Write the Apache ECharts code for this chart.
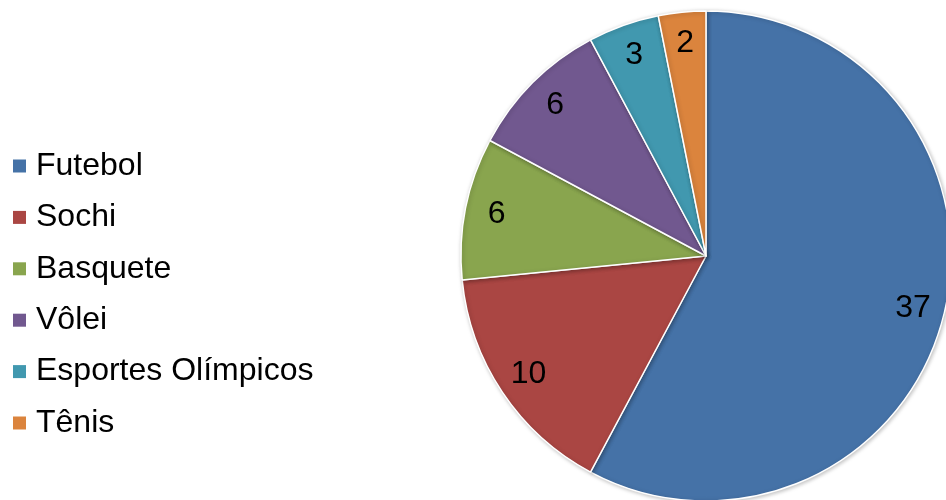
<!DOCTYPE html>
<html>
  <head>
    <title></title>
    <meta charset="UTF-8" />
    <script src="https://cdn.jsdelivr.net/npm/echarts@6/dist/echarts.min.js"></script>
    <style>
      html, body { margin: 0; padding: 0; background: #fff; }
    </style>
  </head>
  <body>
    <div id="main"></div>
    <script>
      const categories = ['Futebol', 'Sochi', 'Basquete', 'Vôlei', 'Esportes Olímpicos', 'Tênis'];
      const values = [37, 10, 6, 6, 3, 2];
      const colors = ['#4572A7', '#AA4643', '#89A54E', '#71588F', '#4198AF', '#DB843D'];

      const width = 946;
      const height = 500;
      const main = document.getElementById('main');
      main.style.width = `${width}px`;
      main.style.height = `${height}px`;

      const font = '"Liberation Sans", Arial, sans-serif';
      const data = categories.map((name, i) => ({ name, value: values[i] }));

      const myChart = echarts.init(main);
      const option = {
        animation: false,
        color: colors,
        legend: {
          orient: 'vertical',
          left: 8,
          top: 145,
          icon: 'rect',
          itemWidth: 13,
          itemHeight: 13,
          itemGap: 19.4,
          itemStyle: { borderWidth: 0, shadowBlur: 0, shadowOffsetX: 0, shadowOffsetY: 0 },
          data: categories,
          textStyle: {
            fontFamily: font,
            fontSize: 32,
            lineHeight: 31,
            color: '#000',
            padding: [0, 0, 0, 5],
          },
        },
        series: [
          {
            type: 'pie',
            center: [706, 256],
            radius: 245,
            startAngle: 90,
            clockwise: true,
            silent: true,
            label: { show: false },
            labelLine: { show: false },
            itemStyle: {
              borderColor: '#fff',
              borderWidth: 1.5,
              shadowBlur: 4,
              shadowColor: 'rgba(0,0,0,0.25)',
              shadowOffsetX: 1,
              shadowOffsetY: 1,
            },
            data: data,
          },
          {
            // transparent ring, only used to place the value labels
            type: 'pie',
            center: [706, 256],
            radius: [176, 245],
            startAngle: 90,
            clockwise: true,
            silent: true,
            itemStyle: { color: 'rgba(0,0,0,0)', borderWidth: 0 },
            label: {
              show: true,
              position: 'inside',
              formatter: '{c}',
              fontFamily: font,
              fontSize: 32,
              color: '#000',
            },
            labelLine: { show: false },
            data: data,
          },
        ],
      };
      myChart.setOption(option);
    </script>
  </body>
</html>
